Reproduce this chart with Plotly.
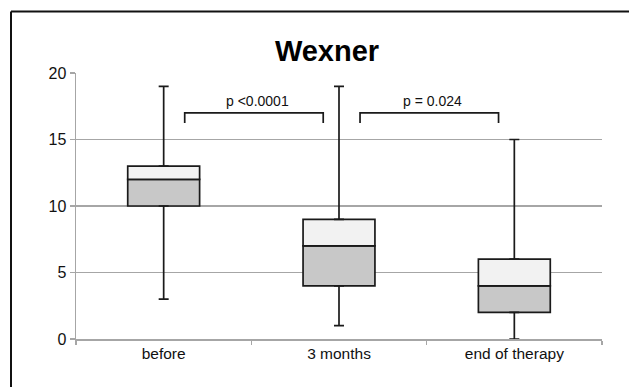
import plotly.graph_objects as go

categories = ["before", "3 months", "end of therapy"]
q_min = [3, 1, 0]
q1 = [10, 4, 2]
median = [12, 7, 4]
q3 = [13, 9, 6]
q_max = [19, 19, 15]

comparisons = [(0, 1), (1, 2)]
p_labels = ["p <0.0001", "p = 0.024"]
bracket_level = 17
bracket_leg = 0.75

y_ticks = [0, 5, 10, 15, 20]

xs = list(range(len(categories)))
box_w = 0.41
FONT = "Liberation Sans, Arial, sans-serif"

W, H = 629, 387
L, R, T, B = 76, 27, 73, 48
PW = W - L - R
PH = H - T - B

fig = go.Figure()

# lower box half (Q1 -> median)
fig.add_trace(go.Bar(
    x=xs, y=[m - a for m, a in zip(median, q1)], base=q1, width=box_w,
    marker=dict(color="#c8c8c8", line=dict(color="#1a1a1a", width=1.7)),
    hoverinfo="skip", showlegend=False))
# upper box half (median -> Q3)
fig.add_trace(go.Bar(
    x=xs, y=[b - m for b, m in zip(q3, median)], base=median, width=box_w,
    marker=dict(color="#f2f2f2", line=dict(color="#1a1a1a", width=1.7)),
    hoverinfo="skip", showlegend=False))

# upper whiskers
fig.add_trace(go.Scatter(
    x=xs, y=q3, mode="markers", marker=dict(size=0.1, color="rgba(0,0,0,0)"),
    error_y=dict(type="data", symmetric=False,
                 array=[mx - b for mx, b in zip(q_max, q3)],
                 arrayminus=[0] * len(xs), color="#1a1a1a", thickness=1.7, width=5),
    hoverinfo="skip", showlegend=False))
# lower whiskers
fig.add_trace(go.Scatter(
    x=xs, y=q1, mode="markers", marker=dict(size=0.1, color="rgba(0,0,0,0)"),
    error_y=dict(type="data", symmetric=False,
                 array=[0] * len(xs),
                 arrayminus=[a - mn for a, mn in zip(q1, q_min)], color="#1a1a1a", thickness=1.7, width=5),
    hoverinfo="skip", showlegend=False))

# significance brackets
for (i, j), lab in zip(comparisons, p_labels):
    x0 = i + 0.12
    x1 = j - 0.09
    fig.add_trace(go.Scatter(
        x=[x0, x0, x1, x1],
        y=[bracket_level - bracket_leg, bracket_level, bracket_level, bracket_level - bracket_leg],
        mode="lines", line=dict(color="#1a1a1a", width=1.7),
        hoverinfo="skip", showlegend=False))
    fig.add_annotation(x=(x0 + x1) / 2 + 0.02, y=bracket_level, yanchor="bottom", yshift=2,
                       text=lab, showarrow=False, font=dict(size=14, color="#111", family=FONT))

fig.update_layout(
    width=W, height=H,
    margin=dict(l=L, r=R, t=T, b=B),
    paper_bgcolor="white", plot_bgcolor="white",
    barmode="overlay",
    font=dict(family=FONT, color="#111", size=16),
    title=dict(text="<b>Wexner</b>", x=(327 - L) / PW, xref="paper", xanchor="center",
               y=1 - 51 / H, yanchor="middle", font=dict(size=29, color="#000", family=FONT)),
    xaxis=dict(range=[-0.5, 2.5], tickmode="array", tickvals=xs, ticktext=categories,
               ticks="", showgrid=False, zeroline=False,
               showline=True, linecolor="#a6a6a6", linewidth=1.5,
               tickfont=dict(size=15.5),
               minor=dict(tickvals=[-0.5, 0.5, 1.5, 2.5], ticks="outside", ticklen=4,
                          tickcolor="#a6a6a6", tickwidth=1.5, showgrid=False)),
    yaxis=dict(range=[0, 20], tickmode="array", tickvals=y_ticks,
               showgrid=True, gridcolor="#a6a6a6", gridwidth=1.5, zeroline=False,
               showline=True, linecolor="#a6a6a6", linewidth=1.5,
               ticks="outside", ticklen=5, tickcolor="#a6a6a6", tickwidth=1.5,
               tickfont=dict(size=16)),
)

# outer frame of the chart: only top and left edges are inside the picture
fx0 = (11 - L) / PW
fy1 = (PH + T - 11.5) / PH
fig.add_shape(type="line", xref="paper", yref="paper",
              x0=fx0, x1=(W + 5 - L) / PW, y0=fy1, y1=fy1,
              line=dict(color="#111", width=2), layer="below")
fig.add_shape(type="line", xref="paper", yref="paper",
              x0=fx0, x1=fx0, y0=-(B + 5) / PH, y1=fy1,
              line=dict(color="#111", width=2), layer="below")

fig.write_html(
    "out.html",
    config={"displayModeBar": False, "staticPlot": True},
    post_script="document.documentElement.style.overflow='hidden';"
                "document.body.style.margin='0';document.body.style.overflow='hidden';",
)
